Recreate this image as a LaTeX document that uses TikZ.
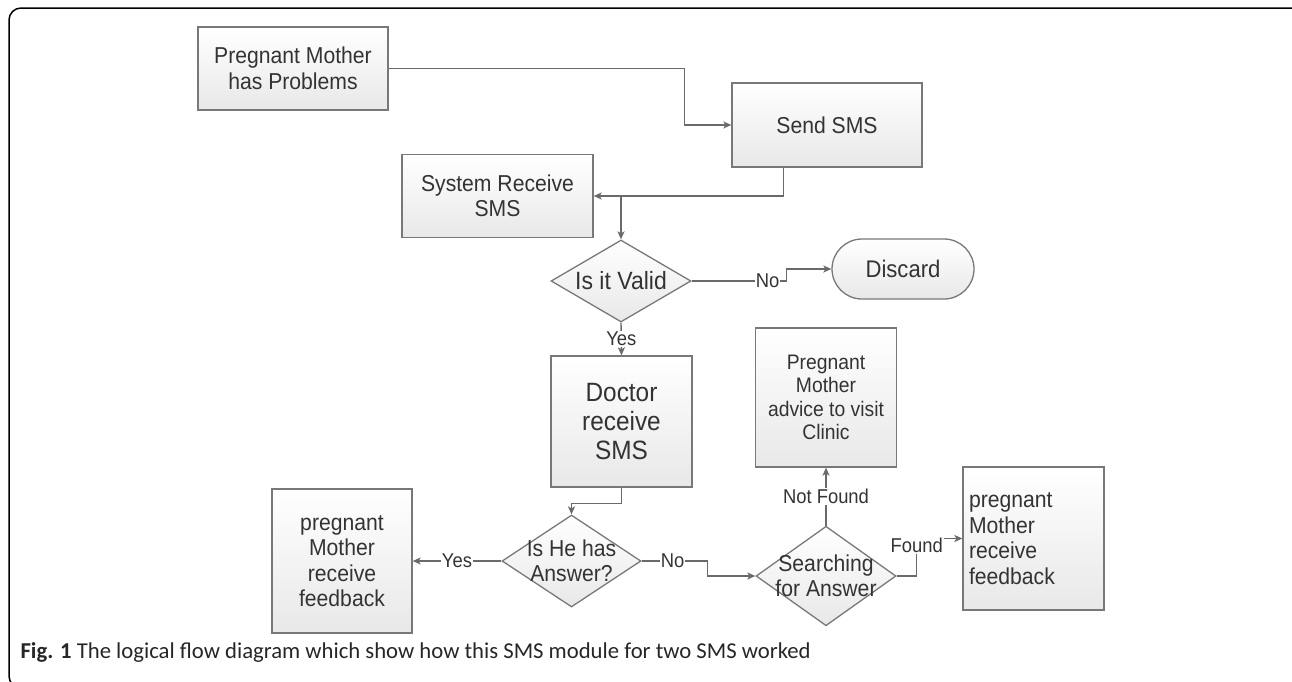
\documentclass[tikz,border=0pt]{standalone}
\usepackage{fontspec}
\setmainfont[FakeStretch=0.92]{Liberation Sans}
\newfontfamily\capfont{Carlito}
\usetikzlibrary{shapes.geometric,arrows.meta}

\definecolor{linegray}{HTML}{6A6A6A}
\definecolor{boxgray}{HTML}{787878}
\definecolor{txtgray}{HTML}{333333}

\begin{document}
\begin{tikzpicture}[x=1pt, y=-1pt,
  every node/.style={text=txtgray},
  block/.style={draw=boxgray, line width=1.3pt, top color=white, bottom color=black!9,
    align=center, inner sep=6pt, font=\fontsize{23}{25.5}\selectfont},
  decision/.style={diamond, draw=boxgray, line width=1.3pt, top color=white, bottom color=black!9,
    align=center, inner sep=-11pt, font=\fontsize{23}{25.5}\selectfont},
  flow/.style={draw=linegray, line width=1.4pt, -{Stealth[length=8pt, width=7pt, inset=2pt]}},
  lbl/.style={fill=white, inner sep=1pt, font=\fontsize{20}{21}\selectfont}]

\useasboundingbox (0,0) rectangle (1292,681);

% outer frame
\draw[line width=1.5pt, rounded corners=12pt] (9,8) rectangle (1304,688);

% upper part: message comes in
\node[block, minimum width=190pt, minimum height=83pt] (prob) at (293,68.5) {Pregnant Mother\\has Problems};
\node[block, minimum width=190pt, minimum height=84pt] (send) at (827,125) {Send SMS};
\node[block, minimum width=191pt, minimum height=83pt] (sysrec) at (497.5,196) {System Receive\\SMS};
\node[decision, minimum width=140pt, minimum height=82pt, font=\fontsize{25}{27}\selectfont] (valid) at (621,281) {Is it Valid};
\node[block, rounded corners=30pt, minimum width=142pt, minimum height=60pt,
  font=\fontsize{24}{26}\selectfont] (discard) at (903,269) {Discard};

% lower part: doctor and answers
\node[block, minimum width=141pt, minimum height=131pt, font=\fontsize{26.5}{29}\selectfont] (doctor) at (621.5,421.5) {Doctor\\receive\\SMS};
\node[block, minimum width=141pt, minimum height=139pt, font=\fontsize{21}{23.5}\selectfont] (advice) at (826,397.5) {Pregnant\\Mother\\advice to visit\\Clinic};
\node[decision, minimum width=139pt, minimum height=92pt] (hasans) at (571.5,561) {Is He has\\Answer?};
\node[block, minimum width=140pt, minimum height=144pt] (leftfb) at (342,561) {pregnant\\Mother\\receive\\feedback};
\node[decision, minimum width=140pt, minimum height=92pt] (search) at (826,576) {Searching\\for Answer};
\node[block, minimum width=141pt, minimum height=143pt, text width=129pt, align=left] (rightfb) at (1033.5,538.5) {pregnant\\Mother\\receive\\feedback};

% connectors
\draw[flow] (prob.east) -- ++(296,0) |- (send.west);
\draw[flow] ([xshift=52pt]send.south west) |- (sysrec.east);
\draw[flow] (valid.north |- sysrec.east) -- (valid.north);
\draw[flow] (valid.east) -- ++(95,0) node[lbl, pos=0.8] {No} |- (discard.west);
\draw[flow] (valid.south) -- node[lbl] {Yes} (doctor.north);
\draw[flow] (doctor.south) -- ++(0,16) -| (hasans.north);
\draw[flow] (hasans.west) -- node[lbl] {Yes} (leftfb.east);
\draw[flow] (hasans.east) -- ++(66,0) node[lbl, pos=0.47] {No} |- (search.west);
\draw[flow] (search.north) -- node[lbl] {Not Found} (advice.south);
\draw[flow] (search.east) -- ++(20,0) |- node[lbl, pos=0.5, yshift=-7pt] {Found} (rightfb.west);

% caption
\node[anchor=base west, text=black!85, font=\capfont\fontsize{22.7}{24}\selectfont] (caption) at (17,658)
  {\textbf{Fig. 1} The logical flow diagram which show how this SMS module for two SMS worked};

\end{tikzpicture}
\end{document}
